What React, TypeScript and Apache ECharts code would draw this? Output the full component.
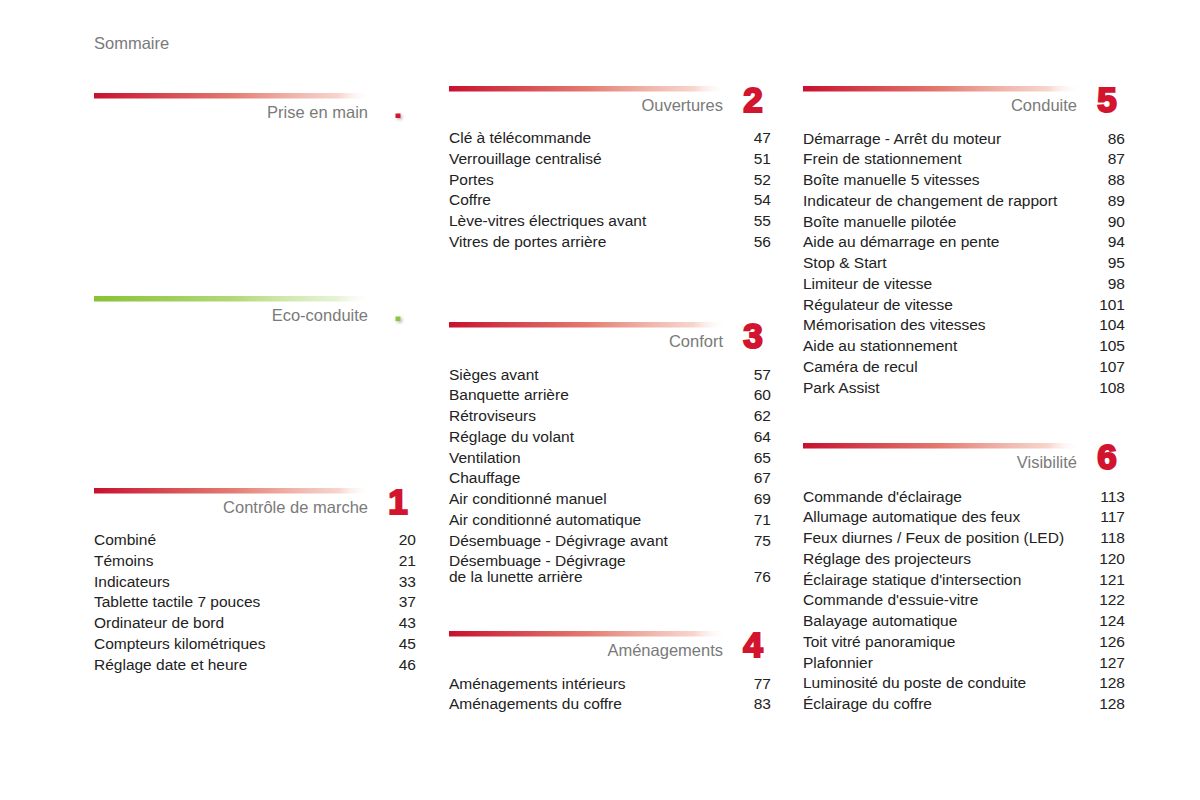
import React, { useEffect, useRef } from "react";
import * as echarts from "echarts";

// ---- Data ----
const pageTitle = "Sommaire";

const introTitles = ["Prise en main", "Eco-conduite"];

const controleTitle = "Contrôle de marche";
const controleItems = ["Combiné", "Témoins", "Indicateurs", "Tablette tactile 7 pouces", "Ordinateur de bord", "Compteurs kilométriques", "Réglage date et heure"];
const controlePages = [20, 21, 33, 37, 43, 45, 46];

const ouverturesTitle = "Ouvertures";
const ouverturesItems = ["Clé à télécommande", "Verrouillage centralisé", "Portes", "Coffre", "Lève-vitres électriques avant", "Vitres de portes arrière"];
const ouverturesPages = [47, 51, 52, 54, 55, 56];

const confortTitle = "Confort";
const confortItems = ["Sièges avant", "Banquette arrière", "Rétroviseurs", "Réglage du volant", "Ventilation", "Chauffage", "Air conditionné manuel", "Air conditionné automatique", "Désembuage - Dégivrage avant", "Désembuage - Dégivrage\nde la lunette arrière"];
const confortPages = [57, 60, 62, 64, 65, 67, 69, 71, 75, 76];

const amenagementsTitle = "Aménagements";
const amenagementsItems = ["Aménagements intérieurs", "Aménagements du coffre"];
const amenagementsPages = [77, 83];

const conduiteTitle = "Conduite";
const conduiteItems = ["Démarrage - Arrêt du moteur", "Frein de stationnement", "Boîte manuelle 5 vitesses", "Indicateur de changement de rapport", "Boîte manuelle pilotée", "Aide au démarrage en pente", "Stop & Start", "Limiteur de vitesse", "Régulateur de vitesse", "Mémorisation des vitesses", "Aide au stationnement", "Caméra de recul", "Park Assist"];
const conduitePages = [86, 87, 88, 89, 90, 94, 95, 98, 101, 104, 105, 107, 108];

const visibiliteTitle = "Visibilité";
const visibiliteItems = ["Commande d'éclairage", "Allumage automatique des feux", "Feux diurnes / Feux de position (LED)", "Réglage des projecteurs", "Éclairage statique d'intersection", "Commande d'essuie-vitre", "Balayage automatique", "Toit vitré panoramique", "Plafonnier", "Luminosité du poste de conduite", "Éclairage du coffre"];
const visibilitePages = [113, 117, 118, 120, 121, 122, 124, 126, 127, 128, 128];

const chapterNumbers = ["1", "2", "3", "4", "5", "6"];

// ---- Layout / style ----
const FONT = "'Liberation Sans', Arial, Helvetica, sans-serif";
const RED = "#d2142f";
const GREEN = "#8cc63f";
const TEXT = "#222222";
const GREY = "#7a7a7a";
const ROW = 20.75;
const ITEM_SIZE = 15.5;
const TITLE_SIZE = 16.5;

function barGradient(green: boolean) {
  const stops = green
    ? [
        { offset: 0, color: "#86c234" },
        { offset: 0.5, color: "rgba(170,212,105,0.9)" },
        { offset: 0.88, color: "rgba(215,235,185,0.6)" },
        { offset: 1, color: "rgba(255,255,255,0)" },
      ]
    : [
        { offset: 0, color: "#c8102e" },
        { offset: 0.5, color: "rgba(225,112,100,0.92)" },
        { offset: 0.88, color: "rgba(242,190,178,0.65)" },
        { offset: 1, color: "rgba(255,255,255,0)" },
      ];
  return { type: "linear", x: 0, y: 0, x2: 1, y2: 0, colorStops: stops };
}

function txt(text: string, x: number, y: number, opts: any = {}) {
  const align = opts.align || "left";
  const v = opts.v || "middle";
  return {
    type: "text",
    x, y,
    silent: true,
    style: {
      text,
      fill: opts.fill || TEXT,
      font: `${opts.weight || "normal"} ${opts.size || ITEM_SIZE}px ${FONT}`,
      align, textAlign: align,
      verticalAlign: v, textVerticalAlign: v,
      stroke: opts.stroke,
      lineWidth: opts.lineWidth,
      shadowBlur: opts.shadowBlur,
      shadowColor: opts.shadowColor,
      shadowOffsetX: opts.shadowOffsetX,
      shadowOffsetY: opts.shadowOffsetY,
    },
  };
}

function header(x0: number, barY: number, title: string, green: boolean, marker: string | null) {
  const els: any[] = [];
  els.push({
    type: "rect", silent: true,
    shape: { x: x0, y: barY, width: 278, height: 5.5 },
    style: { fill: barGradient(green) },
  });
  els.push(txt(title, x0 + 274, barY + 19, { align: "right", size: TITLE_SIZE, fill: GREY }));
  if (marker) {
    els.push(txt(marker, x0 + 304, barY + 13, {
      align: "center", size: 35, weight: "bold", fill: RED, stroke: RED, lineWidth: 2.2,
      shadowBlur: 3, shadowColor: "rgba(0,0,0,0.35)", shadowOffsetX: 2, shadowOffsetY: 2,
    }));
  } else {
    els.push({
      type: "rect", silent: true,
      shape: { x: x0 + 301.5, y: barY + 20.5, width: 5, height: 4.5 },
      style: {
        fill: green ? GREEN : RED,
        shadowBlur: 3, shadowColor: "rgba(0,0,0,0.3)", shadowOffsetX: 1.5, shadowOffsetY: 1.5,
      },
    });
  }
  return els;
}

function list(x0: number, xRight: number, y0: number, items: string[], pages: number[]) {
  const els: any[] = [];
  let y = y0;
  items.forEach((label, i) => {
    const lines = label.split("\n");
    lines.forEach((ln, j) => {
      els.push(txt(ln, x0, y + j * 16));
    });
    const lastY = y + (lines.length - 1) * 16;
    els.push(txt(String(pages[i]), xRight, lastY, { align: "right" }));
    y = lastY + ROW;
  });
  return els;
}

export default function App() {
  const ref = useRef<HTMLDivElement>(null);
  useEffect(() => {
    if (!ref.current) return;
    const chart = echarts.init(ref.current, null, { renderer: "svg" });
    const c1 = 94, c2 = 449, c3 = 803;
    const r1 = 416, r2 = 771, r3 = 1125;
    const elements: any[] = [
      txt(pageTitle, 94, 43, { size: TITLE_SIZE, fill: GREY }),
      ...header(c1, 93, introTitles[0], false, null),
      ...header(c1, 296, introTitles[1], true, null),
      ...header(c1, 488, controleTitle, false, chapterNumbers[0]),
      ...list(c1, r1, 539.5, controleItems, controlePages),
      ...header(c2, 86, ouverturesTitle, false, chapterNumbers[1]),
      ...list(c2, r2, 137.5, ouverturesItems, ouverturesPages),
      ...header(c2, 322, confortTitle, false, chapterNumbers[2]),
      ...list(c2, r2, 374, confortItems, confortPages),
      ...header(c2, 631, amenagementsTitle, false, chapterNumbers[3]),
      ...list(c2, r2, 683, amenagementsItems, amenagementsPages),
      ...header(c3, 86, conduiteTitle, false, chapterNumbers[4]),
      ...list(c3, r3, 138, conduiteItems, conduitePages),
      ...header(c3, 443, visibiliteTitle, false, chapterNumbers[5]),
      ...list(c3, r3, 496, visibiliteItems, visibilitePages),
    ];
    chart.setOption({
      animation: false,
      backgroundColor: "#ffffff",
      graphic: { elements },
    });
    return () => chart.dispose();
  }, []);
  return (
    <div
      ref={ref}
      style={{ position: "absolute", left: 0, top: 0, width: 1200, height: 800, background: "#fff" }}
    />
  );
}
